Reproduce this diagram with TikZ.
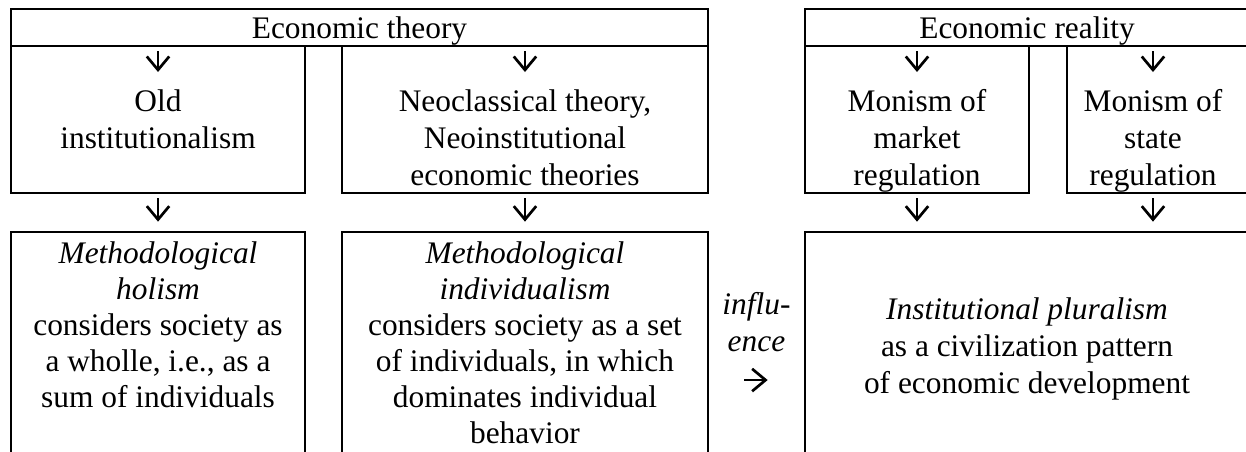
\documentclass[tikz,border=0pt]{standalone}
\usepackage{fontspec}
\setmainfont{Liberation Serif}
\usetikzlibrary{arrows.meta,positioning}

\begin{document}
\begin{tikzpicture}[
    frame/.style={draw, line width=1.2pt, inner sep=0pt},
    hdr/.style={frame, minimum height=0.58cm, text depth=0pt, font=\fontsize{14pt}{16.5pt}\selectfont},
    txt/.style={anchor=north, inner sep=0pt, align=center, font=\fontsize{14pt}{16.5pt}\selectfont},
    arr/.style={-{Straight Barb[length=6pt,width=10pt]}, line width=1.2pt},
    lbl/.style={inner sep=0pt, align=center, font=\fontsize{14pt}{16.5pt}\selectfont\itshape}
]
\useasboundingbox (0,0) rectangle (19.531,-7.085);
% headers
\node[hdr, minimum width=10.926cm] (theory) at (5.635,-0.431) {Economic theory};
\node[hdr, minimum width=6.960cm] (reality) at (16.098,-0.431) {Economic reality};
% upper row
\node[frame, minimum width=4.608cm, minimum height=2.304cm] (old) at (2.477,-1.873) {};
\node[frame, minimum width=5.737cm, minimum height=2.304cm] (neo) at (8.229,-1.873) {};
\node[frame, minimum width=3.511cm, minimum height=2.304cm] (market) at (14.374,-1.873) {};
\node[frame, minimum width=2.853cm, minimum height=2.304cm] (state) at (18.152,-1.873) {};
\node[txt] (oldtxt) at (2.477,-1.395) {Old\\institutionalism};
\node[txt] (neotxt) at (8.229,-1.395) {Neoclassical theory,\\Neoinstitutional\\economic theories};
\node[txt] (markettxt) at (14.374,-1.395) {Monism of\\market\\regulation};
\node[txt] (statetxt) at (18.073,-1.395) {Monism of\\state\\regulation};
% lower row
\node[frame, minimum width=4.608cm, minimum height=3.652cm] (holism) at (2.477,-5.463) {};
\node[frame, minimum width=5.737cm, minimum height=3.652cm] (indiv) at (8.229,-5.463) {};
\node[frame, minimum width=6.960cm, minimum height=3.652cm, align=center,
      font=\fontsize{14pt}{16.5pt}\selectfont] (plural) at (16.098,-5.463)
      {\textit{Institutional pluralism}\\as a civilization pattern\\of economic development};
\node[txt, font=\fontsize{14pt}{16pt}\selectfont] (holtxt) at (2.477,-3.787) {\textit{Methodological}\\\textit{holism}\\considers society as\\a wholle, i.e., as a\\sum of individuals};
\node[txt, font=\fontsize{14pt}{16pt}\selectfont] (indtxt) at (8.229,-3.787) {\textit{Methodological}\\\textit{individualism}\\considers society as a set\\of individuals, in which\\dominates individual\\behavior};

% arrows inside the upper boxes
\draw[arr, shorten <=0.063cm, shorten >=0.266cm] (theory.south -| oldtxt) -- (oldtxt.north);
\draw[arr, shorten <=0.063cm, shorten >=0.266cm] (theory.south -| neotxt) -- (neotxt.north);
\draw[arr, shorten <=0.063cm, shorten >=0.266cm] (reality.south -| markettxt) -- (markettxt.north);
\draw[arr, shorten <=0.063cm, shorten >=0.266cm] (reality.south -| statetxt) -- (statetxt.north);
% arrows between the rows
\draw[arr, shorten <=0.063cm, shorten >=0.141cm] (old.south) -- (holism.north);
\draw[arr, shorten <=0.063cm, shorten >=0.141cm] (neo.south) -- (indiv.north);
\draw[arr, shorten <=0.063cm, shorten >=0.141cm] (market.south) -- (market.south |- plural.north);
\draw[arr, shorten <=0.063cm, shorten >=0.141cm] (statetxt |- state.south) -- (statetxt |- plural.north);
% influence
\draw[arr, shorten <=0.549cm, shorten >=0.564cm] ([yshift=-0.494cm]indiv.east) --
    node[lbl, above=0.42cm] (infl) {influ-\\ence} ([yshift=-0.494cm]plural.west);
\end{tikzpicture}
\end{document}
